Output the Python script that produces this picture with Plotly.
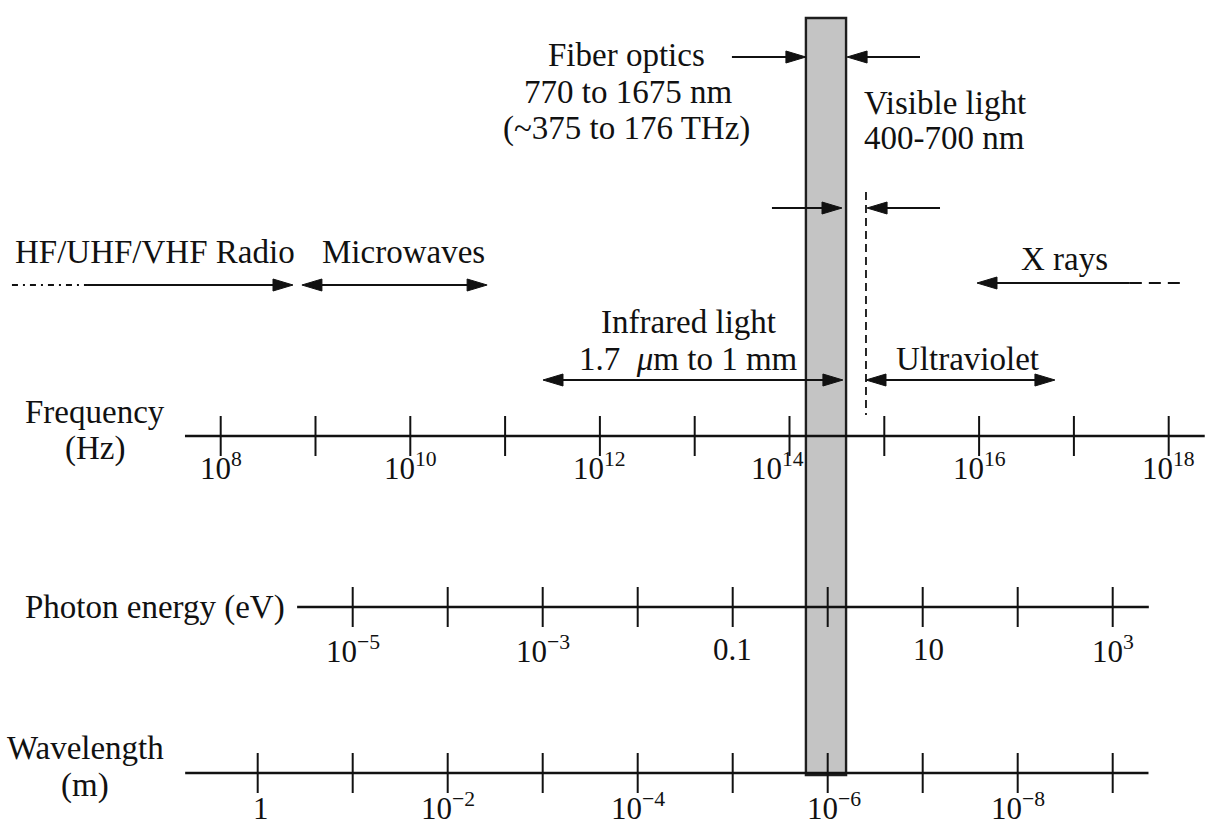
import numpy as np
import plotly.graph_objects as go

# ---------------- data ----------------
freq_ticks_hz = [1e8, 1e9, 1e10, 1e11, 1e12, 1e13, 1e14, 1e15, 1e16, 1e17, 1e18]
freq_label_hz = [1e8, 1e10, 1e12, 1e14, 1e16, 1e18]
freq_label_txt = ["10<sup>8</sup>", "10<sup>10</sup>", "10<sup>12</sup>",
                  "10<sup>14</sup>", "10<sup>16</sup>", "10<sup>18</sup>"]

energy_ticks_ev = [1e-5, 1e-4, 1e-3, 1e-2, 0.1, 1, 10, 100, 1e3]
energy_label_ev = [1e-5, 1e-3, 0.1, 10, 1e3]
energy_label_txt = ["10<sup>−5</sup>", "10<sup>−3</sup>", "0.1", "10", "10<sup>3</sup>"]

wave_ticks_m = [1, 1e-1, 1e-2, 1e-3, 1e-4, 1e-5, 1e-6, 1e-7, 1e-8, 1e-9]
wave_label_m = [1, 1e-2, 1e-4, 1e-6, 1e-8]
wave_label_txt = ["1", "10<sup>−2</sup>", "10<sup>−4</sup>", "10<sup>−6</sup>", "10<sup>−8</sup>"]

freq_axis_span_hz = [4.2e7, 2.4e18]
energy_axis_span_ev = [2.6e-6, 2.4e3]
wave_axis_span_m = [5.8, 4.2e-10]

fiber_band_hz = [1.49e14, 3.95e14]
fiber_arrow_left_hz = [2.47e13, 1.49e14]      # tail, tip
fiber_arrow_right_hz = [2.38e15, 4.05e14]     # tail, tip
visible_arrow_left_hz = [6.53e13, 3.58e14]    # tail, tip
visible_arrow_right_hz = [3.87e15, 6.58e14]   # tail, tip
visible_edge_hz = 6.41e14

radio_hz = [6.28e5, 3.98e6, 5.79e8]           # dashed start, solid start, tip
microwave_hz = [7.19e8, 6.46e10]              # left tip, right tip
infrared_hz = [2.51e11, 3.66e14]              # left tip, right tip
ultraviolet_hz = [6.41e14, 6.31e16]           # left tip, right tip
xray_hz = [9.5e15, 3.89e17, 1.48e18]          # tip, dashed start, dashed end

# ---------------- layout / style constants ----------------
W, H = 1209, 828
PX_PER_DEC_F = 94.8
PX_PER_DEC_E = 95.0
FREQ_RANGE = [14 - 789.5 / PX_PER_DEC_F, 14 + (W - 789.5) / PX_PER_DEC_F]
ENERGY_RANGE = [0 - 827.7 / PX_PER_DEC_E, 0 + (W - 827.7) / PX_PER_DEC_E]
WAVE_RANGE = [-6 + 827.7 / PX_PER_DEC_E, -6 - (W - 827.7) / PX_PER_DEC_E]

ROW_F, ROW_E, ROW_W = 436, 607, 773
TICK_HALF = 20
INK = "#111111"
FONT = "Liberation Serif, Times New Roman, serif"
TXT = 33
TICKTXT = 31

HEAD_LEN = 20 / PX_PER_DEC_F
HEAD_HW = 6

fig = go.Figure()


def line(xs, ys, axis="x", width=2.2, dash="solid", color=INK):
    fig.add_trace(go.Scatter(x=xs, y=ys, mode="lines", xaxis=axis, yaxis="y",
                             line=dict(color=color, width=width, dash=dash),
                             hoverinfo="skip", showlegend=False))


def head(tip, y, direction):
    # filled triangle, tip in log10(Hz); direction +1 points right, -1 left
    base = tip - direction * HEAD_LEN
    fig.add_trace(go.Scatter(x=[tip, base, base, tip], y=[y, y - HEAD_HW, y + HEAD_HW, y],
                             mode="lines", fill="toself", fillcolor=INK,
                             line=dict(color=INK, width=1), hoverinfo="skip",
                             showlegend=False))


def arrow(tail, tip, y, both=False, dash="solid"):
    d = 1 if tip > tail else -1
    a = tail + d * HEAD_LEN if both else tail
    line([a, tip - d * HEAD_LEN * 0.8], [y, y], dash=dash)
    head(tip, y, d)
    if both:
        head(tail, y, -d)


lg = np.log10

# fiber band (drawn below traces)
fig.add_shape(type="rect", xref="x", yref="y",
              x0=lg(fiber_band_hz[0]), x1=lg(fiber_band_hz[1]), y0=18, y1=ROW_W + 2,
              fillcolor="#c4c4c4", line=dict(color="#1e1e1e", width=2.4), layer="below")


# ---- axis rows ----
def axis_row(span, ticks, labels, texts, row, axis, nudges, label_y, yanchor):
    line(list(lg(span)), [row, row], axis=axis, width=2.4)
    xs, ys = [], []
    for t in ticks:
        xs += [lg(t), lg(t), None]
        ys += [row - TICK_HALF, row + TICK_HALF, None]
    line(xs, ys, axis=axis, width=2.0)
    for v, t in zip(labels, texts):
        fig.add_annotation(x=lg(v), y=label_y, xref=axis, yref="y", text=t,
                           showarrow=False, xanchor="center", yanchor=yanchor,
                           xshift=nudges.get(v, 0), borderpad=0,
                           font=dict(family=FONT, size=TICKTXT, color=INK))


axis_row(freq_axis_span_hz, freq_ticks_hz, freq_label_hz, freq_label_txt, ROW_F, "x",
         {1e14: -12}, ROW_F + 30, "middle")
axis_row(energy_axis_span_ev, energy_ticks_ev, energy_label_ev, energy_label_txt, ROW_E, "x2",
         {10: 6}, ROW_E + 42, "middle")
axis_row(wave_axis_span_m, wave_ticks_m, wave_label_m, wave_label_txt, ROW_W, "x3",
         {1: 3, 1e-6: 6}, H - 1, "bottom")

# ---- range arrows ----
arrow(lg(fiber_arrow_left_hz[0]), lg(fiber_arrow_left_hz[1]), 57)
arrow(lg(fiber_arrow_right_hz[0]), lg(fiber_arrow_right_hz[1]), 57)
arrow(lg(visible_arrow_left_hz[0]), lg(visible_arrow_left_hz[1]), 208)
arrow(lg(visible_arrow_right_hz[0]), lg(visible_arrow_right_hz[1]), 208)
line([lg(visible_edge_hz)] * 2, [192, 415], width=1.8, dash="8px,5px")

line([lg(radio_hz[0]), lg(radio_hz[1])], [285, 285], width=2, dash="6px,5px,2px,5px")
arrow(lg(radio_hz[1]), lg(radio_hz[2]), 285)
arrow(lg(microwave_hz[0]), lg(microwave_hz[1]), 285, both=True)
arrow(lg(infrared_hz[0]), lg(infrared_hz[1]), 380, both=True)
arrow(lg(ultraviolet_hz[0]), lg(ultraviolet_hz[1]), 380, both=True)
arrow(lg(xray_hz[1]), lg(xray_hz[0]), 283)
line([lg(xray_hz[1]), lg(xray_hz[2])], [283, 283], width=2, dash="12px,7px")

# ---- text ----
texts = [
    ("Fiber optics", 626, 55, "center"),
    ("770 to 1675 nm", 628, 92, "center"),
    ("(~375 to 176 THz)", 626, 128, "center"),
    ("Visible light", 862, 103, "left"),
    ("400-700 nm", 862, 138, "left"),
    ("HF/UHF/VHF Radio", 13, 252, "left"),
    ("Microwaves", 320, 252, "left"),
    ("X rays", 1064, 259, "center"),
    ("Infrared light", 688, 322, "center"),
    ("1.7  <i>μ</i>m to 1 mm", 688, 359, "center"),
    ("Ultraviolet", 967, 359, "center"),
    ("Frequency", 95, 412, "center"),
    ("(Hz)", 95, 448, "center"),
    ("Photon energy (eV)", 23, 607, "left"),
    ("Wavelength", 85, 748, "center"),
    ("(m)", 85, 785, "center"),
]
for t, xp, yp, anc in texts:
    fig.add_annotation(x=xp / W, y=yp, xref="paper", yref="y", text=t, showarrow=False,
                       xanchor=anc, yanchor="middle",
                       font=dict(family=FONT, size=TXT, color=INK))

hidden = dict(visible=False, showgrid=False, zeroline=False, fixedrange=True)
fig.update_layout(
    width=W, height=H, autosize=False,
    margin=dict(l=0, r=0, t=0, b=0),
    paper_bgcolor="white", plot_bgcolor="white",
    showlegend=False,
    xaxis=dict(range=FREQ_RANGE, domain=[0, 1], **hidden),
    xaxis2=dict(range=ENERGY_RANGE, overlaying="x", anchor="y", **hidden),
    xaxis3=dict(range=WAVE_RANGE, overlaying="x", anchor="y", **hidden),
    yaxis=dict(range=[H, 0], domain=[0, 1], **hidden),
)

fig.write_html("out.html", config={"displayModeBar": False},
               post_script="document.body.style.margin='0';document.body.style.overflow='hidden';")
